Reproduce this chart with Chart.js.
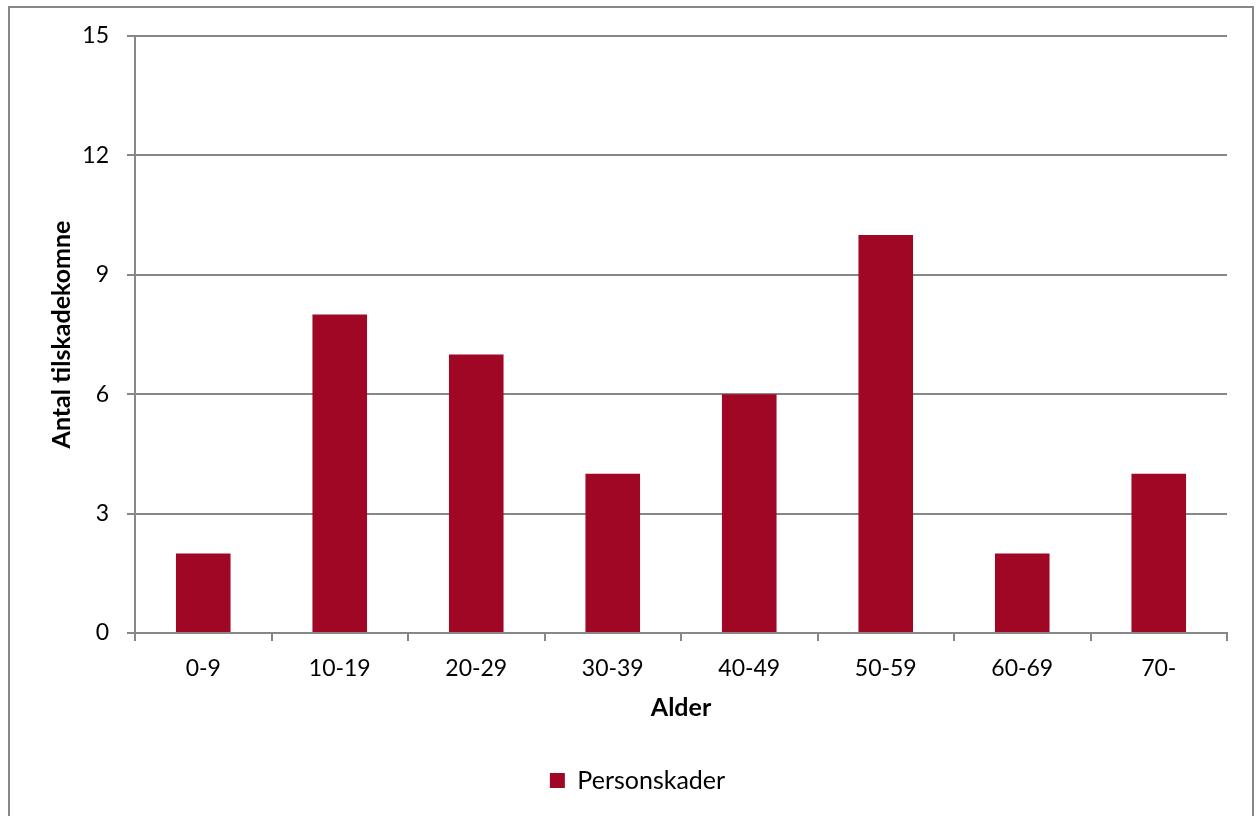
<!DOCTYPE html>
<html>
<head>
<meta charset="utf-8">
<script src="https://cdn.jsdelivr.net/npm/chart.js@4"></script>
<style>
  html, body { margin: 0; padding: 0; background: #fff; overflow: hidden; }
  #frame { position: absolute; left: 8px; top: 6px; width: 1242px; height: 830px; border: 2px solid #878787; }
  #c { position: absolute; left: 0; top: 0; }
</style>
</head>
<body>
<div id="frame"></div>
<canvas id="c" width="1257" height="816"></canvas>
<script>
const categories = ["0-9", "10-19", "20-29", "30-39", "40-49", "50-59", "60-69", "70-"];
const personskader = [2, 8, 7, 4, 6, 10, 2, 4];
const yTicks = [0, 3, 6, 9, 12, 15];
const seriesName = "Personskader";
const xTitle = "Alder";
const yTitle = "Antal tilskadekomne";

const gridColor = "#878787";
const barColor = "#A00724";
const fontFamily = "Lato, 'Open Sans', sans-serif";

new Chart(document.getElementById("c"), {
  type: "bar",
  data: {
    labels: categories,
    datasets: [{
      label: seriesName,
      data: personskader,
      backgroundColor: barColor,
      borderWidth: 0,
      categoryPercentage: 0.8,
      barPercentage: 0.5
    }]
  },
  options: {
    responsive: false,
    animation: false,
    devicePixelRatio: 1,
    layout: { padding: { left: 48, top: 36, right: 30, bottom: 13 } },
    plugins: {
      legend: {
        position: "bottom",
        labels: {
          boxWidth: 15, boxHeight: 15, padding: 10,
          color: "#000",
          font: { family: fontFamily, size: 25 }
        }
      },
      tooltip: { enabled: false }
    },
    scales: {
      x: {
        grid: { drawOnChartArea: false, drawTicks: true, tickLength: 8, color: gridColor, lineWidth: 2, offset: true },
        border: { color: gridColor, width: 2 },
        ticks: { color: "#000", font: { family: fontFamily, size: 23 }, padding: 14, maxRotation: 0 },
        title: { display: true, text: xTitle, color: "#000", font: { family: fontFamily, size: 25, weight: "bold" }, padding: { top: 0, bottom: 35 } },
        afterFit: s => { s.height = 125; }
      },
      y: {
        min: 0, max: 15,
        afterBuildTicks: s => { s.ticks = yTicks.map(v => ({ value: v })); },
        grid: { drawTicks: true, tickLength: 8, color: gridColor, lineWidth: 2 },
        border: { color: gridColor, width: 2 },
        ticks: { color: "#000", font: { family: fontFamily, size: 23 }, padding: 18 },
        title: { display: true, text: yTitle, color: "#000", font: { family: fontFamily, size: 25, weight: "bold" }, padding: { top: -1, bottom: 0 } },
        afterFit: s => { s.width = 87; }
      }
    }
  }
});
</script>
</body>
</html>
